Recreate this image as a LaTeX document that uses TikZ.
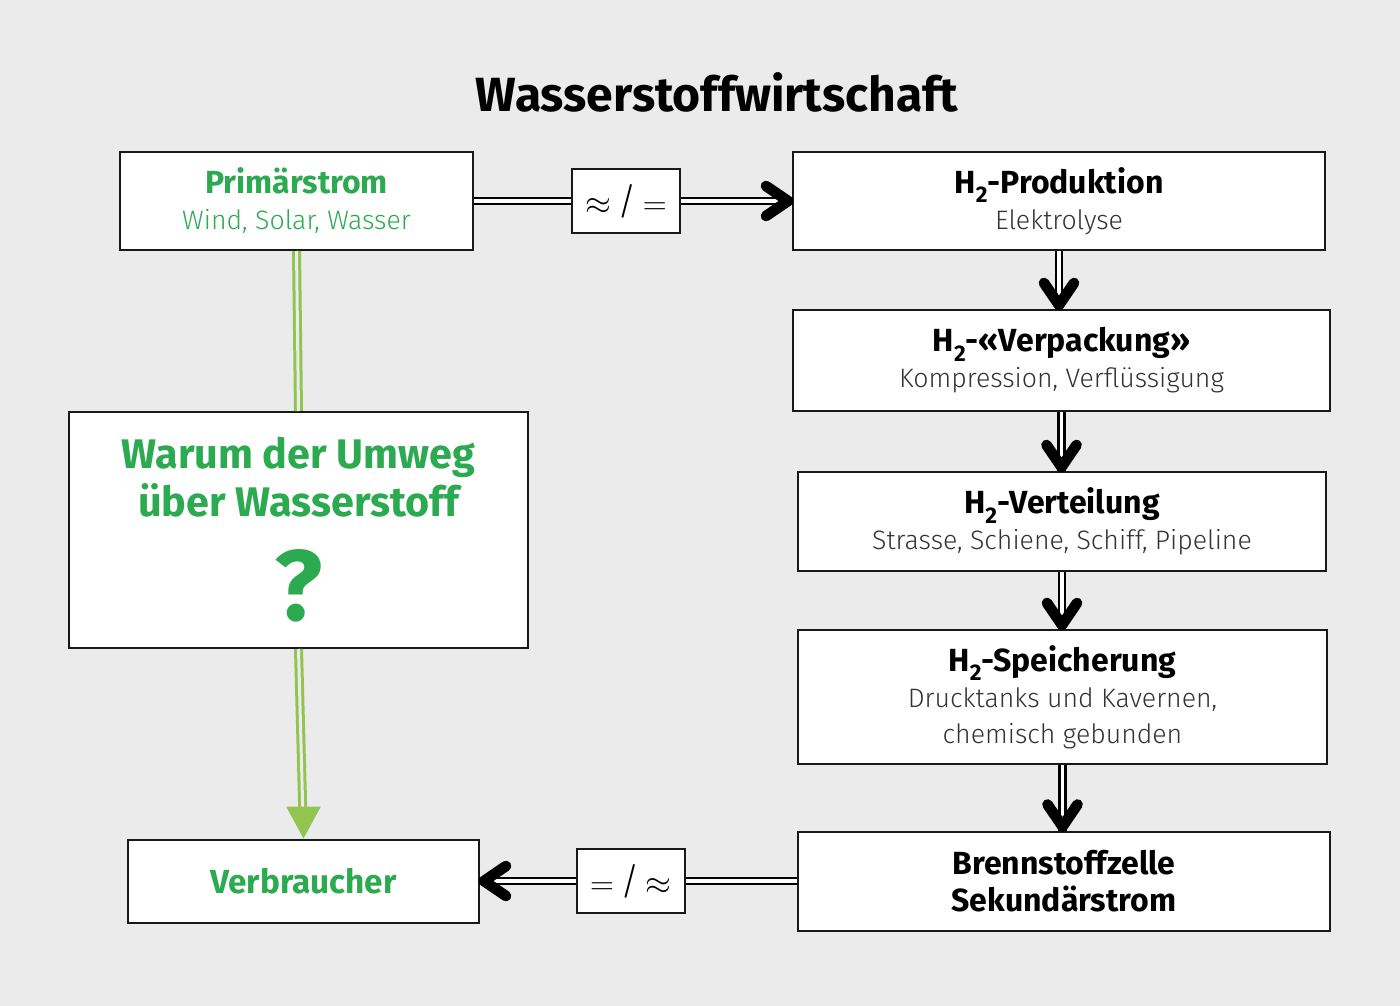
\documentclass[tikz,border=0pt]{standalone}
\usepackage{fontspec}
\setmainfont{Fira Sans}
\newfontfamily\lightfont{Fira Sans Light}
\usetikzlibrary{arrows.meta}
\definecolor{bg}{HTML}{EBEBEB}
\definecolor{txtgreen}{HTML}{2CAA50}
\definecolor{arrgreen}{HTML}{92C452}
\newcommand\hfont{\fontsize{24}{27}\selectfont\bfseries}
\newcommand\sfont{\lightfont\fontsize{20}{25}\selectfont\color{black!80}}
\newcommand\Hsub{H\raisebox{-0.3em}{\fontsize{17}{17}\selectfont 2}}

\begin{document}
\begin{tikzpicture}[x=0.75pt, y=-0.75pt,
    box/.style={draw=black!90, line width=1.5pt, fill=white, inner sep=0pt, align=center, font=\fontsize{24}{27}\selectfont},
    apbox/.style={box, minimum width=81pt, minimum height=48pt, font=\lightfont\fontsize{28}{28}\selectfont},
    dbl/.style={draw=black, line width=1.9pt, double=white, double distance=2.4pt},
    gdbl/.style={draw=arrgreen, line width=2.25pt, double=bg, double distance=2.25pt},
    chevron/.style={line width=8pt, line cap=round, line join=round},
    gtip/.style={draw=arrgreen, -{Triangle[length=24pt,width=26pt,line width=0pt]}}]
    \fill[bg](0,0)rectangle(1400,1006);
    \node(title) at (717,92){\fontsize{36}{42}\selectfont\bfseries Wasserstoffwirtschaft};
    % linke Seite
    \node[box, minimum width=264.75pt, minimum height=73.5pt](prim) at (296.5,201)
        {{\hfont\color{txtgreen}Primärstrom}\\{\sfont\color{txtgreen}Wind, Solar, Wasser}};
    \node[box, minimum width=344.25pt, minimum height=177pt, font=\fontsize{31}{36}\selectfont\bfseries, text=txtgreen](warum) at (298.5,530)
        {Warum der Umweg\\über Wasserstoff\\[23pt]{\fontsize{75}{75}\selectfont ?}};
    \node[box, minimum width=263.25pt, minimum height=62.25pt](verb) at (303.5,881)
        {\fontsize{25}{28}\selectfont\bfseries\color{txtgreen}Verbraucher};
    % rechte Seite
    \node[box, minimum width=399pt, minimum height=73.5pt](prod) at (1059,201)
        {{\hfont\Hsub-Produktion}\\{\sfont Elektrolyse}};
    \node[box, minimum width=402.75pt, minimum height=75.75pt](verp) at (1061.5,360.5)
        {{\hfont\Hsub-«Verpackung»}\\{\sfont Kompression, Verflüssigung}};
    \node[box, minimum width=396pt, minimum height=74.25pt](vert) at (1062,521.5)
        {{\hfont\Hsub-Verteilung}\\{\sfont Strasse, Schiene, Schiff, Pipeline}};
    \node[box, minimum width=396.75pt, minimum height=100.5pt](speich) at (1062.5,697)
        {{\hfont\Hsub-Speicherung}\\{\sfont Drucktanks und Kavernen,}\\{\sfont chemisch gebunden}};
    \node[box, minimum width=399pt, minimum height=74.25pt, font=\fontsize{24}{28}\selectfont\bfseries](brenn) at (1064,881)
        {Brennstoffzelle\\Sekundärstrom};
    % Zwischenboxen
    \node[apbox](appr1) at (626,201){$\approx$\,/\,$=$};
    \node[apbox](appr2) at (631,881){$=$\,/\,$\approx$};
    % Pfeile oben und unten
    \draw[dbl](prim.east)--(appr1.west);
    \draw[dbl](appr1.east)--(prod.west);
    \draw[chevron](prod.west)++(-26,-15)--++(22,15)--++(-22,15);
    \draw[dbl](brenn.west)--(appr2.east);
    \draw[dbl](appr2.west)--(verb.east);
    \draw[chevron](verb.east)++(26,-15)--++(-22,15)--++(22,15);
    % Kette rechts
    \foreach \a/\b in {prod/verp, verp/vert, vert/speich, speich/brenn}{
        \draw[dbl](\a.south)--(\a.south |- \b.north);
        \draw[chevron](\a.south |- \b.north)++(-15,-26)--++(15,22)--++(15,-22);
    }
    % gruen
    \draw[gdbl](prim.south)--(warum.north);
    \draw[gdbl, shorten >=22pt](warum.south)--(verb.north);
    \draw[gtip](verb.north)++(0,-0.1)--(verb.north);
\end{tikzpicture}
\end{document}
